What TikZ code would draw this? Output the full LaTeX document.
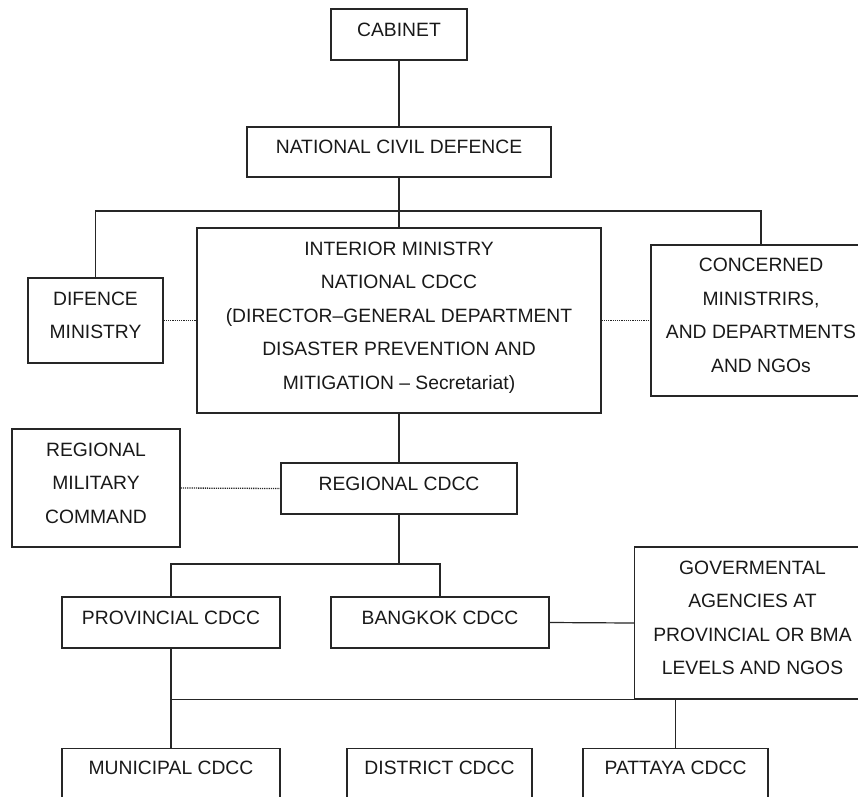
\documentclass[tikz,border=0pt]{standalone}
\usepackage{fontspec}
\setmainfont{Liberation Sans}
\newsavebox\txbox
\newcommand{\tx}[2][10pt]{\sbox\txbox{\begin{tabular}{@{}c@{}}#2\end{tabular}}\dp\txbox=\dimexpr\dp\txbox+#1\relax\usebox\txbox}
\begin{document}
\begin{tikzpicture}[x=1pt,y=-1pt,
  every node/.style={font=\fontsize{19.3}{33.5}\selectfont, text=black!90},
  box/.style={draw=black!85, line width=1.2pt, rectangle, inner sep=0pt},
  openbox/.style={draw=black!85, line width=1.2pt, rectangle, inner xsep=0pt, inner ysep=2.5pt, anchor=north},
  conn/.style={draw=black!85, line width=1.2pt},
  dotline/.style={draw=black!85, line width=1.3pt, dash pattern=on 1.2pt off 1pt}]
\useasboundingbox (0,0) rectangle (858,796);
\clip (0,0) rectangle (858,796);
\fill[white] (0,0) rectangle (858,796);

\node[box, minimum width=136pt, minimum height=51pt] (cab) at (399,34.5) {\tx{CABINET}};
\node[box, minimum width=304pt, minimum height=50pt] (ncd) at (399,152) {\tx{NATIONAL CIVIL DEFENCE}};
\node[box, minimum width=135pt, minimum height=85pt] (def) at (95.5,320.5) {\tx{DIFENCE\\MINISTRY}};
\node[box, minimum width=404pt, minimum height=185pt] (int) at (399,320.5) {\tx{INTERIOR MINISTRY\\NATIONAL CDCC\\(DIRECTOR--GENERAL DEPARTMENT\\DISASTER PREVENTION AND\\MITIGATION -- Secretariat)}};
\node[box, minimum width=220pt, minimum height=151pt] (con) at (761,320.5) {\tx{CONCERNED\\MINISTRIRS,\\AND DEPARTMENTS\\AND NGOs}};
\node[box, minimum width=168pt, minimum height=118pt] (rmc) at (96,488) {\tx{REGIONAL\\MILITARY\\COMMAND}};
\node[box, minimum width=236pt, minimum height=51pt] (reg) at (399,488.5) {\tx{REGIONAL CDCC}};
\node[box, minimum width=218pt, minimum height=51pt] (pro) at (171,622.5) {\tx{PROVINCIAL CDCC}};
\node[box, minimum width=218pt, minimum height=51pt] (bkk) at (440,622.5) {\tx{BANGKOK CDCC}};
\node[box, minimum width=236pt, minimum height=152pt] (gov) at (752.5,623) {\tx{GOVERMENTAL\\AGENCIES AT\\PROVINCIAL OR BMA\\LEVELS AND NGOS}};
\node[openbox, minimum width=218pt] (mun) at (171,748) {\tx[80pt]{MUNICIPAL CDCC}};
\node[openbox, minimum width=185pt] (dis) at (439.5,748) {\tx[80pt]{DISTRICT CDCC}};
\node[openbox, minimum width=185pt] (pat) at (675.5,748) {\tx[80pt]{PATTAYA CDCC}};

\coordinate (b1) at (399,211);
\coordinate (b2) at (399,564);

\draw[conn] (cab.south) -- (ncd.north);
\draw[conn] (ncd.south) -- (int.north);
\draw[conn] (def.north) |- (b1) -| (con.north);
\draw[dotline] (def.east) -- (int.west);
\draw[dotline] (int.east) -- (con.west);
\draw[conn] (int.south) -- (reg.north);
\draw[dotline] (rmc.east) -- (reg.west);
\draw[conn] (reg.south) -- (b2);
\draw[conn] (pro.north) |- (b2) -| (bkk.north);
\draw[conn] (bkk.east) -- (gov.west);
\draw[conn] (pro.south) -- (mun.north);
\draw[conn] (pro.south |- gov.south west) -- (gov.south west);
\draw[conn] (pat.north) -- (pat.north |- gov.south);
\end{tikzpicture}
\end{document}
